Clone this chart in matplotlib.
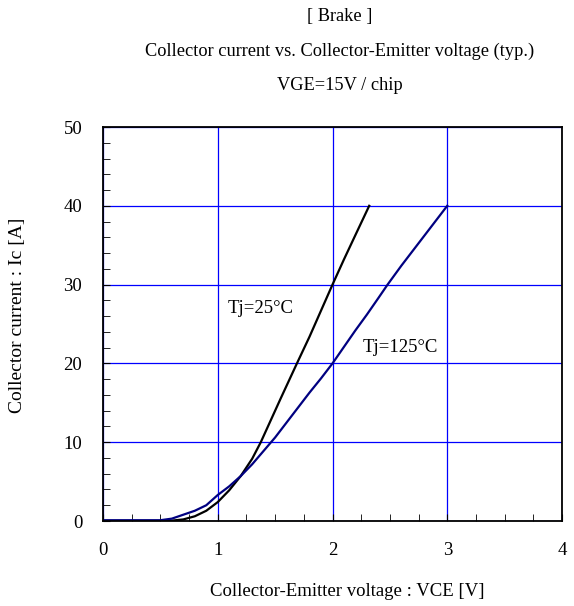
import numpy as np
import matplotlib.pyplot as plt
from matplotlib.ticker import MultipleLocator

# Tj = 25 C curve
vce_25 = [0.0, 0.2, 0.4, 0.55, 0.6, 0.7, 0.8, 0.9, 1.0, 1.1, 1.2, 1.3, 1.375, 1.45,
          1.55, 1.69, 1.8, 1.9, 2.0, 2.1, 2.2, 2.32]
ic_25 = [0.0, 0.0, 0.0, 0.0, 0.05, 0.2, 0.6, 1.3, 2.4, 3.9, 5.7, 7.9, 10.0, 12.4,
         15.6, 20.0, 23.4, 26.7, 30.0, 33.2, 36.3, 40.0]

# Tj = 125 C curve
vce_125 = [0.0, 0.3, 0.5, 0.6, 0.7, 0.8, 0.9, 1.0, 1.1, 1.2, 1.3, 1.4, 1.5, 1.6,
           1.7, 1.8, 1.9, 2.0, 2.1, 2.2, 2.3, 2.4, 2.48, 2.6, 2.7, 2.8, 2.9, 3.0]
ic_125 = [0.1, 0.1, 0.1, 0.3, 0.8, 1.3, 2.0, 3.3, 4.4, 5.7, 7.2, 8.9, 10.6, 12.5,
          14.4, 16.3, 18.1, 20.0, 22.1, 24.2, 26.2, 28.3, 30.0, 32.4, 34.3, 36.2, 38.1, 40.0]

plt.rcParams['font.family'] = ['Liberation Serif', 'DejaVu Serif']
plt.rcParams['font.size'] = 13

fig = plt.figure(figsize=(5.74, 6.06), dpi=100)
ax = fig.add_axes([103/574, 1-521/606, (562-103)/574, (521-127)/606])

ax.plot(vce_25, ic_25, color='black', lw=1.6)
ax.plot(vce_125, ic_125, color='#000080', lw=1.6)

ax.set_xlim(0, 4)
ax.set_ylim(0, 50)
ax.xaxis.set_major_locator(MultipleLocator(1))
ax.xaxis.set_minor_locator(MultipleLocator(0.25))
ax.yaxis.set_major_locator(MultipleLocator(10))
ax.yaxis.set_minor_locator(MultipleLocator(2))
ax.grid(True, which='major', color='#0000ff', lw=0.9)
ax.tick_params(which='both', direction='in', top=False, right=False)
ax.tick_params(which='major', length=5, pad=15, labelsize=13.5)
ax.tick_params(which='minor', length=5)
for s in ax.spines.values():
    s.set_linewidth(1.3)

ax.text(1.09, 27, 'Tj=25°C', va='center', ha='left', fontsize=13.5)
ax.text(2.26, 22, 'Tj=125°C', va='center', ha='left', fontsize=13.5)

ax.set_xlabel('Collector-Emitter voltage : VCE [V]', fontsize=13.5)
ax.set_ylabel('Collector current : Ic [A]', fontsize=14)
ax.xaxis.set_label_coords((347-103)/459, -(592-521)/394)
ax.yaxis.set_label_coords(-(103-18)/459, (521-315)/394)
ax.xaxis.label.set_va('center')
ax.yaxis.label.set_va('center')

fig.text(340/574, 1-17/606, '[ Brake ]', ha='center', va='center', fontsize=13.2)
fig.text(340/574, 1-51/606, 'Collector current vs. Collector-Emitter voltage (typ.)',
         ha='center', va='center', fontsize=13.2)
fig.text(340/574, 1-85/606, 'VGE=15V / chip', ha='center', va='center', fontsize=13.2)

fig.savefig('out.png', dpi=100)
